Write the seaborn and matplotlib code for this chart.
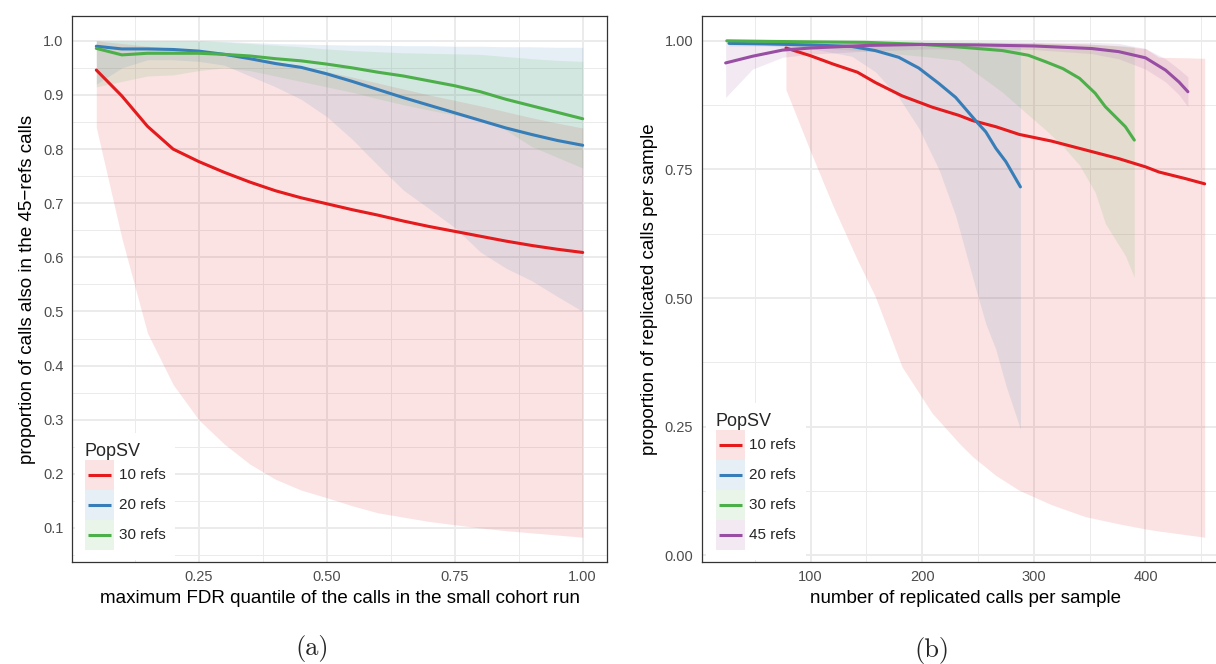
import matplotlib
matplotlib.use("Agg")
import matplotlib.pyplot as plt
import numpy as np
import pandas as pd
import seaborn as sns
from matplotlib.patches import Patch, Rectangle
from matplotlib.lines import Line2D
from matplotlib.legend_handler import HandlerBase
from matplotlib.ticker import FixedLocator

# ---------------- (a) replication vs. FDR quantile ----------------
fdr_q = [0.05, 0.10, 0.15, 0.20, 0.25, 0.30, 0.35, 0.40, 0.45, 0.50,
         0.55, 0.60, 0.65, 0.70, 0.75, 0.80, 0.85, 0.90, 0.95, 1.00]

a10_mid = [0.946, 0.898, 0.842, 0.800, 0.777, 0.757, 0.739, 0.723, 0.710, 0.699,
           0.688, 0.678, 0.667, 0.657, 0.648, 0.639, 0.630, 0.622, 0.615, 0.609]
a10_lo = [0.840, 0.635, 0.460, 0.365, 0.300, 0.255, 0.218, 0.190, 0.170, 0.156,
          0.141, 0.128, 0.120, 0.112, 0.106, 0.100, 0.095, 0.091, 0.087, 0.083]
a10_hi = [1.000, 0.995, 0.990, 0.986, 0.982, 0.977, 0.970, 0.962, 0.953, 0.943,
          0.933, 0.922, 0.911, 0.900, 0.890, 0.880, 0.869, 0.858, 0.848, 0.839]

a20_mid = [0.990, 0.985, 0.985, 0.984, 0.981, 0.975, 0.967, 0.958, 0.951, 0.939,
           0.925, 0.910, 0.895, 0.881, 0.867, 0.853, 0.839, 0.827, 0.816, 0.807]
a20_lo = [0.920, 0.950, 0.965, 0.965, 0.962, 0.955, 0.935, 0.915, 0.892, 0.860,
          0.818, 0.770, 0.724, 0.690, 0.655, 0.610, 0.580, 0.557, 0.528, 0.500]
a20_hi = [1.000, 1.000, 1.000, 1.000, 1.000, 0.999, 0.997, 0.995, 0.994, 0.993,
          0.992, 0.992, 0.991, 0.991, 0.990, 0.990, 0.989, 0.989, 0.988, 0.988]

a30_mid = [0.986, 0.974, 0.977, 0.977, 0.977, 0.975, 0.972, 0.967, 0.963, 0.957,
           0.950, 0.942, 0.935, 0.926, 0.917, 0.906, 0.892, 0.880, 0.868, 0.856]
a30_lo = [0.915, 0.925, 0.935, 0.937, 0.945, 0.950, 0.945, 0.935, 0.925, 0.915,
          0.905, 0.893, 0.882, 0.872, 0.863, 0.855, 0.835, 0.805, 0.785, 0.765]
a30_hi = [1.000, 1.000, 1.000, 1.000, 1.000, 0.998, 0.995, 0.992, 0.989, 0.985,
          0.982, 0.980, 0.978, 0.977, 0.976, 0.975, 0.971, 0.967, 0.964, 0.962]

# ---------------- (b) replication vs. number of calls ----------------
b10_x = [78, 100, 120, 142, 158, 182, 209, 233, 245, 266, 287, 316, 346, 376, 400, 412, 436, 453]
b10_mid = [0.986, 0.971, 0.955, 0.939, 0.919, 0.893, 0.871, 0.855, 0.845, 0.833,
           0.818, 0.805, 0.788, 0.771, 0.755, 0.745, 0.732, 0.722]
b10_lo = [0.905, 0.785, 0.680, 0.574, 0.503, 0.366, 0.276, 0.218, 0.192, 0.155,
          0.126, 0.098, 0.075, 0.061, 0.051, 0.047, 0.040, 0.035]
b10_hi = [0.990, 0.992, 0.995, 0.996, 0.996, 0.996, 0.996, 0.996, 0.996, 0.996,
          0.996, 0.995, 0.994, 0.990, 0.985, 0.968, 0.967, 0.966]

b20_x = [27, 60, 100, 137, 158, 179, 197, 215, 230, 249, 257, 266, 275, 288]
b20_mid = [0.995, 0.994, 0.992, 0.989, 0.981, 0.968, 0.947, 0.917, 0.890, 0.842,
           0.823, 0.791, 0.765, 0.716]
b20_lo = [0.990, 0.990, 0.985, 0.970, 0.940, 0.890, 0.830, 0.750, 0.660, 0.510,
          0.450, 0.400, 0.330, 0.245]
b20_hi = [1.000, 1.000, 1.000, 0.999, 0.999, 0.998, 0.997, 0.996, 0.995, 0.993,
          0.992, 0.991, 0.990, 0.988]

b30_x = [25, 60, 100, 150, 200, 233, 272, 295, 311, 326, 341, 355, 364, 382, 390]
b30_mid = [1.000, 0.999, 0.998, 0.997, 0.993, 0.988, 0.981, 0.972, 0.959, 0.946,
           0.927, 0.898, 0.872, 0.833, 0.807]
b30_lo = [0.995, 0.992, 0.988, 0.980, 0.970, 0.962, 0.900, 0.856, 0.826, 0.795,
          0.758, 0.705, 0.645, 0.582, 0.540]
b30_hi = [1.000, 1.000, 1.000, 1.000, 1.000, 0.999, 0.998, 0.997, 0.996, 0.995,
          0.994, 0.993, 0.992, 0.990, 0.988]

b45_x = [24, 48, 75, 100, 150, 200, 250, 300, 352, 376, 400, 418, 430, 438]
b45_mid = [0.957, 0.970, 0.982, 0.986, 0.991, 0.993, 0.992, 0.990, 0.985, 0.979,
           0.967, 0.943, 0.920, 0.901]
b45_lo = [0.890, 0.945, 0.968, 0.974, 0.980, 0.984, 0.985, 0.983, 0.975, 0.965,
          0.945, 0.920, 0.895, 0.872]
b45_hi = [0.998, 0.998, 0.998, 0.998, 0.998, 0.998, 0.998, 0.998, 0.997, 0.995,
          0.985, 0.965, 0.945, 0.930]

groups_a = ["10 refs", "20 refs", "30 refs"]
groups_b = ["10 refs", "20 refs", "30 refs", "45 refs"]
palette = {"10 refs": "#E41A1C", "20 refs": "#377EB8",
           "30 refs": "#4DAF4A", "45 refs": "#984EA3"}


def long_frame(series):
    frames = []
    for name, x, mid, lo, hi in series:
        frames.append(pd.DataFrame({"x": x, "value": mid, "low": lo,
                                    "high": hi, "PopSV": name}))
    return pd.concat(frames, ignore_index=True)


df_a = long_frame([
    ("10 refs", fdr_q, a10_mid, a10_lo, a10_hi),
    ("20 refs", fdr_q, a20_mid, a20_lo, a20_hi),
    ("30 refs", fdr_q, a30_mid, a30_lo, a30_hi),
])
df_b = long_frame([
    ("10 refs", b10_x, b10_mid, b10_lo, b10_hi),
    ("20 refs", b20_x, b20_mid, b20_lo, b20_hi),
    ("30 refs", b30_x, b30_mid, b30_lo, b30_hi),
    ("45 refs", b45_x, b45_mid, b45_lo, b45_hi),
])

sns.set_style("white")
plt.rcParams["font.family"] = ["Liberation Sans", "DejaVu Sans"]

RIBBON_ALPHA = 0.12
LINE_W = 2.2
GRID = "#EBEBEB"
FRAME = "#333333"

# legend key geometry: keys are ~30 px square at 100 dpi
LEG_FS = 11
KEY_PT = 21.6
KEY_HH = (KEY_PT / LEG_FS - 0.245) / 0.65


class RibbonKey(HandlerBase):
    """Legend key: translucent ribbon square with the series line centred on it."""

    def create_artists(self, legend, orig_handle, xdescent, ydescent,
                       width, height, fontsize, trans):
        color = orig_handle.get_facecolor()
        rect = Rectangle((-xdescent, -ydescent), width, height,
                         facecolor=color[:3], alpha=RIBBON_ALPHA, lw=0,
                         transform=trans)
        yc = -ydescent + height / 2
        x0 = -xdescent + 0.1 * width
        x1 = -xdescent + 0.9 * width
        line = Line2D([x0, x1], [yc, yc], color=color[:3], lw=LINE_W,
                      solid_capstyle="butt", transform=trans)
        return [rect, line]


W, H = 1216, 664
fig = plt.figure(figsize=(W / 100, H / 100), dpi=100)


def px_axes(left, right, top, bottom):
    return fig.add_axes([left / W, 1 - bottom / H, (right - left) / W, (bottom - top) / H])


def expanded(lo, hi, m=0.05):
    r = hi - lo
    return lo - m * r, hi + m * r


def tick_text(ticks):
    if max(ticks) <= 1.0:
        return ["{:.2f}".format(t) for t in ticks]
    return ["{:d}".format(int(t)) for t in ticks]


def draw_panel(ax, df, order, xmajor, xminor, ymajor, yminor, yfmt,
               xlabel, ylabel, legend_anchor):
    for g in order:
        d = df[df["PopSV"] == g]
        ax.fill_between(d["x"], d["low"], d["high"], color=palette[g],
                        alpha=RIBBON_ALPHA, lw=0, zorder=1)
    sns.lineplot(data=df, x="x", y="value", hue="PopSV", hue_order=order,
                 palette=palette, estimator=None, sort=False, lw=LINE_W,
                 legend=False, ax=ax, zorder=3)

    ax.set_xlim(*expanded(df["x"].min(), df["x"].max()))
    ax.set_ylim(*expanded(min(df["low"].min(), df["value"].min()),
                          max(df["high"].max(), df["value"].max())))

    ax.xaxis.set_major_locator(FixedLocator(xmajor))
    ax.xaxis.set_minor_locator(FixedLocator(xminor))
    ax.yaxis.set_major_locator(FixedLocator(ymajor))
    ax.yaxis.set_minor_locator(FixedLocator(yminor))
    ax.set_xticklabels(tick_text(xmajor))
    ax.set_yticklabels([yfmt.format(v) for v in ymajor])

    ax.set_axisbelow(True)
    ax.grid(which="major", color=GRID, lw=1.4)
    ax.grid(which="minor", color=GRID, lw=0.7)
    ax.tick_params(which="major", length=3, width=0.8, color=FRAME,
                   labelcolor="#4D4D4D", labelsize=10.5, pad=3)
    ax.tick_params(which="minor", length=0)
    for s in ax.spines.values():
        s.set_visible(True)
        s.set_color(FRAME)
        s.set_linewidth(0.9)

    ax.set_xlabel(xlabel, fontsize=13.5, color="black", labelpad=4)
    ax.set_ylabel(ylabel, fontsize=13.5, color="black", labelpad=5)

    handles = [Patch(facecolor=palette[g]) for g in order]
    leg = ax.legend(handles, order, handler_map={Patch: RibbonKey()},
                    title="PopSV", loc="lower left", bbox_to_anchor=legend_anchor,
                    borderaxespad=0, frameon=True, fancybox=False,
                    edgecolor="none", facecolor="white", framealpha=1,
                    fontsize=LEG_FS, title_fontsize=13, handlelength=1.9,
                    handleheight=KEY_HH, labelspacing=0, handletextpad=0.3,
                    borderpad=0.65, alignment="left")
    leg.set_zorder(5)


ax_a = px_axes(72, 607, 16, 562)
draw_panel(ax_a, df_a, groups_a,
           xmajor=[0.25, 0.50, 0.75, 1.00],
           xminor=[0.125, 0.375, 0.625, 0.875],
           ymajor=[0.1, 0.2, 0.3, 0.4, 0.5, 0.6, 0.7, 0.8, 0.9, 1.0],
           yminor=[0.05, 0.15, 0.25, 0.35, 0.45, 0.55, 0.65, 0.75, 0.85, 0.95],
           yfmt="{:.1f}",
           xlabel="maximum FDR quantile of the calls in the small cohort run",
           ylabel="proportion of calls also in the 45\u2212refs calls",
           legend_anchor=(0.0056, 0.004))

ax_b = px_axes(701.7, 1228.6, 16, 562)
draw_panel(ax_b, df_b, groups_b,
           xmajor=[100, 200, 300, 400],
           xminor=[50, 150, 250, 350, 450],
           ymajor=[0.00, 0.25, 0.50, 0.75, 1.00],
           yminor=[0.125, 0.375, 0.625, 0.875],
           yfmt="{:.2f}",
           xlabel="number of replicated calls per sample",
           ylabel="proportion of replicated calls per sample",
           legend_anchor=(0.008, 0.004))

fig.text(312 / W, 1 - 649 / H, "(a)", family="cmr10", fontsize=19,
         ha="center", va="center")
fig.text(932 / W, 1 - 650 / H, "(b)", family="cmr10", fontsize=19,
         ha="center", va="center")

fig.savefig("out.png", dpi=100)
